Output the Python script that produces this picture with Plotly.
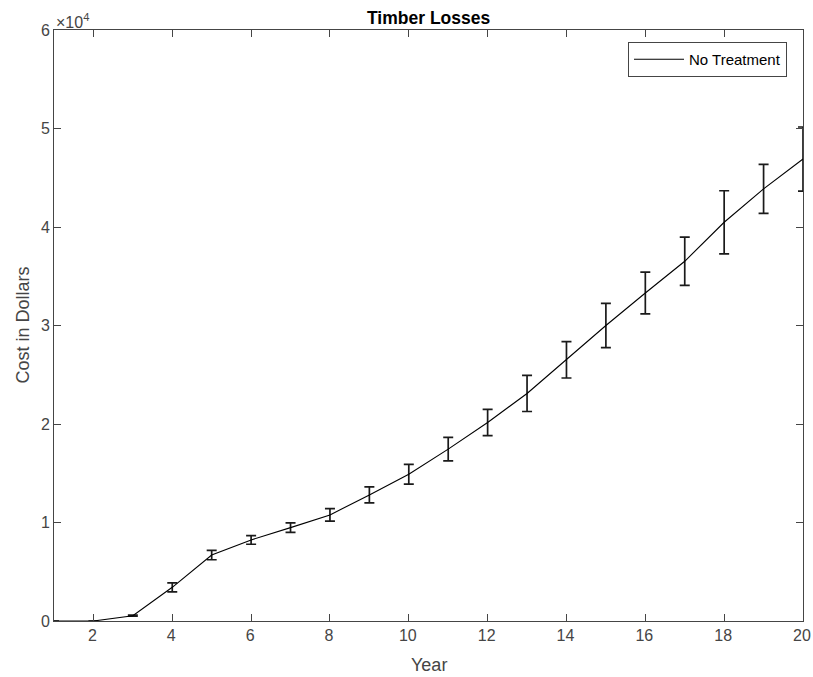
import plotly.graph_objects as go

years = list(range(1, 21))
cost = [0, 0, 540, 3420, 6700, 8230, 9480, 10770, 12800, 14900,
        17450, 20150, 23100, 26520, 30000, 33300, 36520, 40480, 43870, 46900]
err = [0, 0, 50, 460, 480, 440, 480, 630, 810, 1000,
       1190, 1340, 1830, 1850, 2240, 2115, 2455, 3200, 2480, 3250]

y_tickvals = [0, 10000, 20000, 30000, 40000, 50000, 60000]
y_ticktext = ["0", "1", "2", "3", "4", "5", "6"]
x_tickvals = [2, 4, 6, 8, 10, 12, 14, 16, 18, 20]

axis_col = "#454545"
font_fam = "Liberation Sans, Arial, sans-serif"

L, R, T, B = 54, 10, 30, 56
W, H = 813, 677
pw, ph = W - L - R, H - T - B

fig = go.Figure()
fig.add_trace(go.Scatter(
    x=years, y=cost, mode="lines", name="No Treatment",
    line=dict(color="black", width=1.1),
    error_y=dict(type="data", array=err, visible=True, color="#1a1a1a",
                 thickness=1.7, width=5),
))

fig.update_layout(
    width=W, height=H,
    margin=dict(l=L, r=R, t=T, b=B, autoexpand=False),
    paper_bgcolor="white", plot_bgcolor="white",
    font=dict(family=font_fam, color=axis_col, size=16),
    showlegend=True,
    legend=dict(x=(787 - L) / pw, y=(H - B - 42) / ph, xanchor="right", yanchor="top",
                bgcolor="white", bordercolor=axis_col, borderwidth=1,
                font=dict(size=15, color="black"),
                itemwidth=50, tracegroupgap=0),
    xaxis=dict(range=[1, 20], tickvals=x_tickvals, ticks="inside", ticklen=7,
               tickcolor=axis_col, showline=True, linecolor=axis_col, linewidth=1,
               mirror="ticks", showgrid=False, zeroline=False, automargin=False,
               ticklabelshift=-1, ticklabeloverflow="allow",
               tickfont=dict(size=16, color=axis_col)),
    yaxis=dict(range=[0, 60000], tickvals=y_tickvals, ticktext=y_ticktext,
               ticks="inside", ticklen=7, tickcolor=axis_col, showline=True,
               linecolor=axis_col, linewidth=1, mirror="ticks", showgrid=False,
               zeroline=False, automargin=False, ticklabeloverflow="allow",
               tickfont=dict(size=16, color=axis_col)),
    annotations=[
        dict(text="<b>Timber Losses</b>", xref="paper", yref="paper",
             x=0.5, y=1, xanchor="center", yanchor="bottom", yshift=0,
             showarrow=False, font=dict(size=17.5, color="black")),
        dict(text="Year", xref="paper", yref="paper",
             x=0.5, y=-(665 - (H - B)) / ph, xanchor="center", yanchor="middle",
             showarrow=False, font=dict(size=18, color=axis_col)),
        dict(text="Cost in Dollars", xref="paper", yref="paper", textangle=-90,
             x=-(L - 22) / pw, y=0.5, xanchor="center", yanchor="middle",
             showarrow=False, font=dict(size=18, color=axis_col)),
        dict(text="×10<sup>4</sup>", xref="paper", yref="paper",
             x=0, y=1, xanchor="left", yanchor="bottom", showarrow=False,
             font=dict(size=16, color=axis_col), yshift=-3),
    ],
)

fig.write_html(
    "out.html",
    config={"displayModeBar": False},
    post_script="document.body.style.margin='0';document.body.style.overflow='hidden';",
)
